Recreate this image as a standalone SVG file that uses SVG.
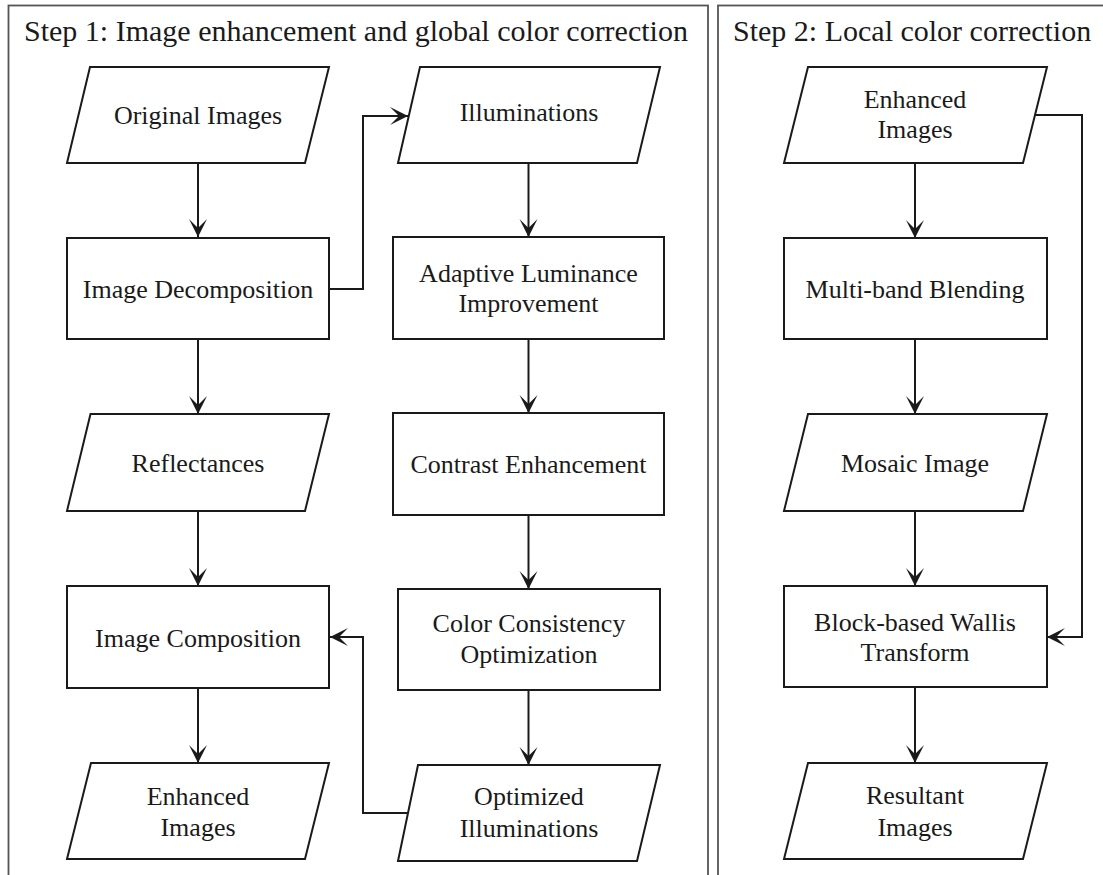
<svg xmlns="http://www.w3.org/2000/svg" width="1103" height="875" viewBox="0 0 1103 875">
<style>
.frame{fill:none;stroke:#555;stroke-width:1.8}
.node{fill:#fff;stroke:#1a1a1a;stroke-width:2}
.conn{fill:none;stroke:#1a1a1a;stroke-width:2}
.title{font-family:"Liberation Serif","Times New Roman",serif;font-size:30px;fill:#1a1a1a}
.lbl{font-family:"Liberation Serif","Times New Roman",serif;font-size:26px;fill:#1a1a1a;text-anchor:middle}
</style>
<defs>
<marker id="arr" viewBox="-19 -10 20 20" markerWidth="20" markerHeight="20" refX="0" refY="0" orient="auto" markerUnits="userSpaceOnUse">
<path d="M0,0 L-18,-9 L-9,0 L-18,9 Z" fill="#1a1a1a"/>
</marker>
</defs>
<rect width="1103" height="875" fill="#fff"/>
<g id="frames">
<rect class="frame" x="8.5" y="5.5" width="699.5" height="880"/>
<rect class="frame" x="718" y="5.5" width="400" height="880"/>
<text class="title" x="24" y="41">Step 1: Image enhancement and global color correction</text>
<text class="title" x="733" y="41">Step 2: Local color correction</text>
</g>
<g id="connectors">
<line class="conn" x1="198" y1="163" x2="198" y2="237" marker-end="url(#arr)"/>
<line class="conn" x1="198" y1="340" x2="198" y2="414" marker-end="url(#arr)"/>
<line class="conn" x1="198" y1="511" x2="198" y2="586" marker-end="url(#arr)"/>
<line class="conn" x1="198" y1="688" x2="198" y2="763" marker-end="url(#arr)"/>
<polyline class="conn" points="329,289 363,289 363,116 408,116" marker-end="url(#arr)"/>
<line class="conn" x1="528.5" y1="163" x2="528.5" y2="237" marker-end="url(#arr)"/>
<line class="conn" x1="528.5" y1="339" x2="528.5" y2="413" marker-end="url(#arr)"/>
<line class="conn" x1="528.5" y1="515" x2="528.5" y2="589" marker-end="url(#arr)"/>
<line class="conn" x1="528.5" y1="690" x2="528.5" y2="765" marker-end="url(#arr)"/>
<polyline class="conn" points="407.5,813 363,813 363,637 330,637" marker-end="url(#arr)"/>
<line class="conn" x1="915" y1="163" x2="915" y2="238" marker-end="url(#arr)"/>
<line class="conn" x1="915" y1="339" x2="915" y2="414" marker-end="url(#arr)"/>
<line class="conn" x1="915" y1="511" x2="915" y2="586" marker-end="url(#arr)"/>
<line class="conn" x1="915" y1="687" x2="915" y2="763" marker-end="url(#arr)"/>
<polyline class="conn" points="1035,115 1082,115 1082,637 1047,637" marker-end="url(#arr)"/>
</g>
<g id="n-original">
<polygon class="node" points="90,67 329,67 305,163 67,163"/>
<text class="lbl" x="198" y="124">Original Images</text>
</g>
<g id="n-decomp">
<rect class="node" x="67" y="238" width="262" height="101"/>
<text class="lbl" x="198" y="298">Image Decomposition</text>
</g>
<g id="n-reflect">
<polygon class="node" points="90.5,414 329,414 305,511 67,511"/>
<text class="lbl" x="198" y="472">Reflectances</text>
</g>
<g id="n-compose">
<rect class="node" x="67" y="586" width="262" height="102"/>
<text class="lbl" x="198" y="647">Image Composition</text>
</g>
<g id="n-enh1">
<polygon class="node" points="91,763 329,763 305,859 67,859"/>
<text class="lbl" x="198" y="805">Enhanced</text>
<text class="lbl" x="198" y="836">Images</text>
</g>
<g id="n-illum">
<polygon class="node" points="420,67 660,67 637,163 398,163"/>
<text class="lbl" x="529" y="121">Illuminations</text>
</g>
<g id="n-adaptive">
<rect class="node" x="393" y="237" width="271" height="102"/>
<text class="lbl" x="528.5" y="282">Adaptive Luminance</text>
<text class="lbl" x="528.5" y="312">Improvement</text>
</g>
<g id="n-contrast">
<rect class="node" x="393" y="413" width="271" height="102"/>
<text class="lbl" x="528.5" y="473">Contrast Enhancement</text>
</g>
<g id="n-consist">
<rect class="node" x="398" y="589" width="262" height="101"/>
<text class="lbl" x="529" y="632">Color Consistency</text>
<text class="lbl" x="529" y="663">Optimization</text>
</g>
<g id="n-optillum">
<polygon class="node" points="418,765 660,765 637,861 398,861"/>
<text class="lbl" x="529" y="805">Optimized</text>
<text class="lbl" x="529" y="837">Illuminations</text>
</g>
<g id="n-enh2">
<polygon class="node" points="808,67 1047,67 1023,163 784,163"/>
<text class="lbl" x="915" y="108">Enhanced</text>
<text class="lbl" x="915" y="138">Images</text>
</g>
<g id="n-multiband">
<rect class="node" x="784" y="238" width="263" height="101"/>
<text class="lbl" x="915" y="298">Multi-band Blending</text>
</g>
<g id="n-mosaic">
<polygon class="node" points="808,414 1047,414 1023,511 784,511"/>
<text class="lbl" x="915" y="472">Mosaic Image</text>
</g>
<g id="n-wallis">
<rect class="node" x="784" y="586" width="263" height="101"/>
<text class="lbl" x="915" y="631">Block-based Wallis</text>
<text class="lbl" x="915" y="661">Transform</text>
</g>
<g id="n-result">
<polygon class="node" points="808,763 1047,763 1023,859 784,859"/>
<text class="lbl" x="915" y="804">Resultant</text>
<text class="lbl" x="915" y="836">Images</text>
</g>
</svg>
